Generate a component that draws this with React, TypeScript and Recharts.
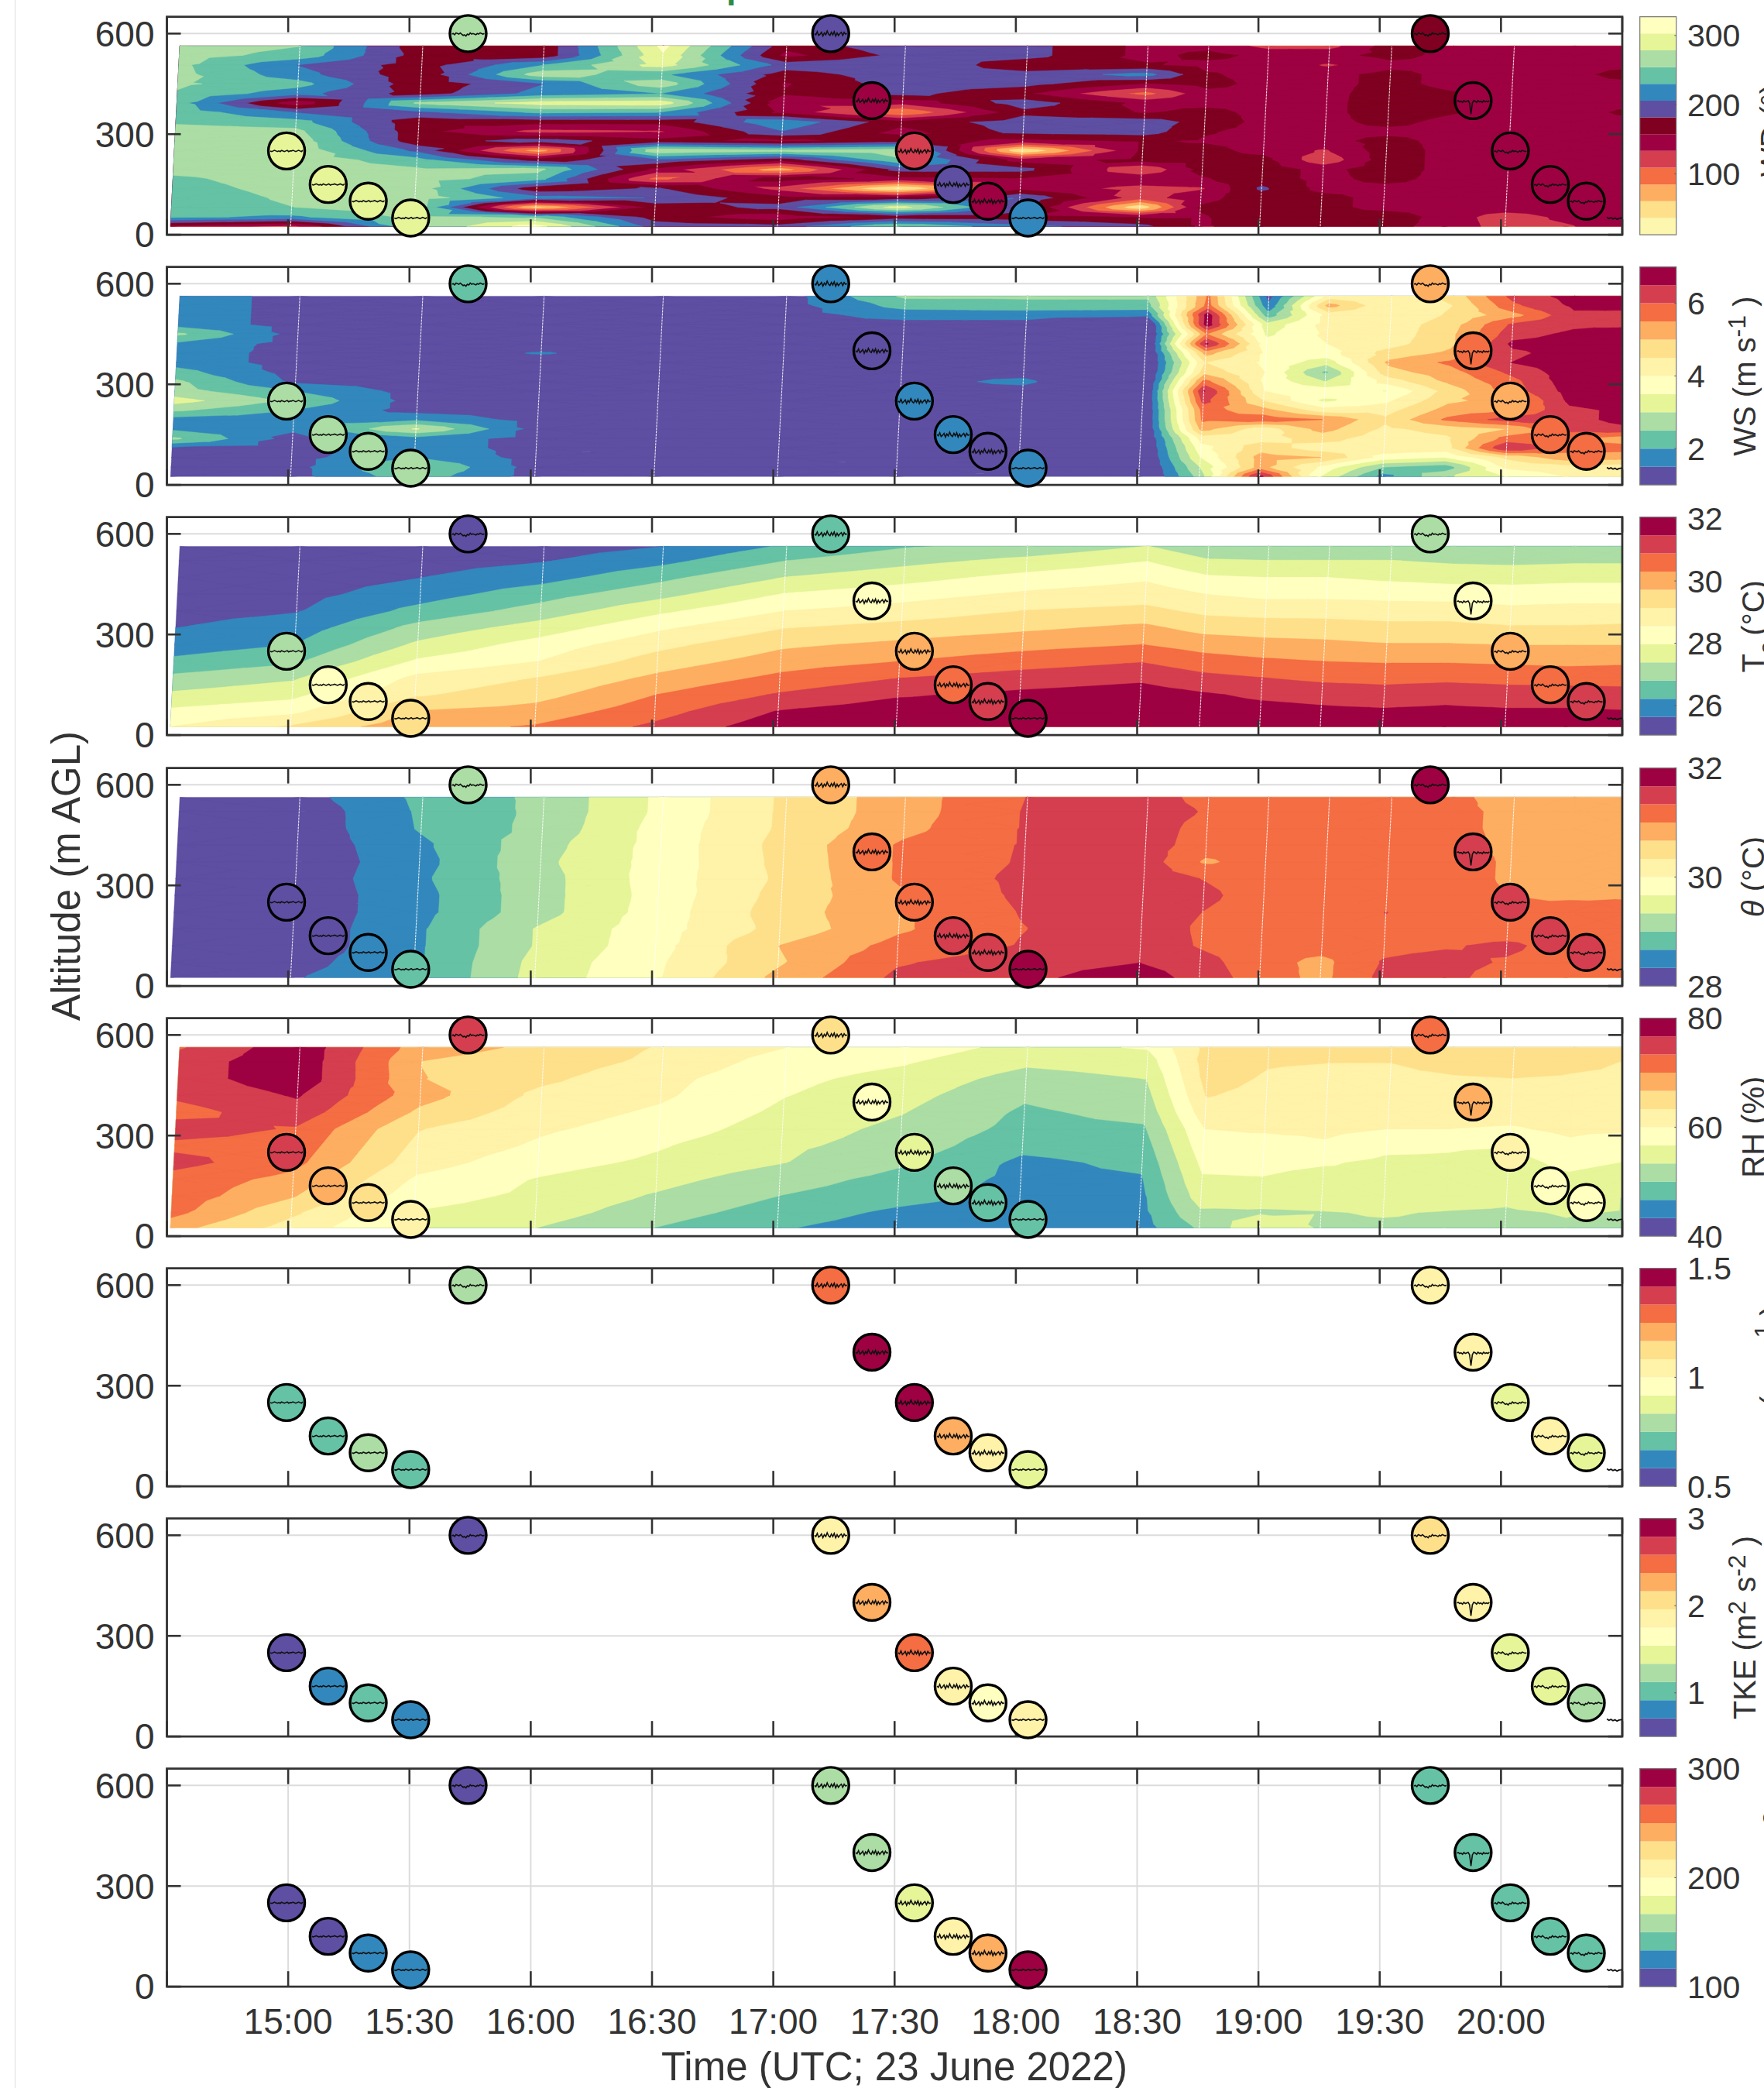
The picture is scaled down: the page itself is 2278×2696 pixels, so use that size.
import React from "react";
import {
  ComposedChart,
  CartesianGrid,
  Line,
  ReferenceArea,
  ReferenceLine,
  Scatter,
  XAxis,
  YAxis,
} from "recharts";

const FONT = '"Liberation Sans", Arial, sans-serif';
const INK = "#333333";

// minutes after 14:30
const timeTicks = [0, 30, 60, 90, 120, 150, 180, 210, 240, 270, 300, 330, 360];
const timeLabels = ["", "15:00", "15:30", "16:00", "16:30", "17:00", "17:30", "18:00", "18:30", "19:00", "19:30", "20:00", ""];
const altTicks = [0, 300, 600];

// uav legs
const markerMinutes = [29.6, 39.9, 49.8, 60.3, 74.5, 164.2, 174.4, 184.9, 194.5, 203.1, 213, 312.5, 323.1, 332.3, 342.2, 351.1];
const markerAlts = [250, 150, 100, 50, 600, 600, 400, 250, 150, 100, 50, 600, 400, 250, 150, 100];
const markerWiggle = [0, 0, 0, 0, 1, 2, 2, 2, 2, 2, 0, 1, 3, 1, 1, 1];

const wdMarkers = [290, 290, 290, 290, 266, 193, 145, 121, 193, 145, 217, 169, 145, 145, 145, 145];
const wsMarkers = [2.75, 2.75, 2.75, 2.75, 2.25, 1.75, 1.25, 1.75, 1.75, 1.25, 1.75, 5.25, 5.75, 5.25, 5.75, 5.75];
const taMarkers = [27.1, 28.25, 28.8, 29.4, 25.3, 26.5, 28.25, 30, 30.6, 31.2, 31.8, 27.1, 28.25, 30, 30.6, 31.2];
const thetaMarkers = [28.17, 28.17, 28.5, 28.83, 29.17, 30.83, 31.17, 31.17, 31.5, 31.5, 31.83, 31.83, 31.5, 31.5, 31.5, 31.5];
const rhMarkers = [75, 68.3, 65, 61.7, 75, 65, 58.3, 55, 51.7, 48.3, 48.3, 71.7, 68.3, 61.7, 58.3, 58.3];
const sigmaMarkers = [0.71, 0.71, 0.79, 0.71, 0.79, 1.29, 1.46, 1.46, 1.21, 1.04, 0.875, 1.06, 1.04, 0.875, 1.04, 0.875];
const tkeMarkers = [0.6, 0.8, 1.0, 0.8, 0.6, 1.85, 2.27, 2.48, 1.85, 1.65, 1.85, 2.05, 1.85, 1.43, 1.43, 1.23];
const bcMarkers = [108, 108, 125, 125, 108, 158, 158, 175, 208, 242, 292, 142, 142, 142, 142, 142];

// little time series printed inside each circle
const wiggles = [
  [0, 1, 0, -1, 0, 1, 0, 1, -1, 0, 1, 0, -1, 1, 0, 0, -1, 0, 1, 0, -1, 0, 1, -1],
  [1, 0, 2, -1, 0, 1, -1, 1, 3, 2, 4, 1, 2, -1, 1, 0, 1, 2, 0, 1, -1, 0, 1, 0],
  [0, 2, -3, 3, 1, -2, 4, -1, 2, -4, 1, 3, -2, 2, -3, 4, -1, 3, 0, -2, 3, -2, 1, 0],
  [1, 0, 2, 1, 3, 0, 2, 1, 0, 4, 22, 4, 0, 1, 3, 0, 2, 1, 3, 0, 2, 1, 2, 0],
];
const tailMinutes = [356.2, 356.7, 357.2, 357.7, 358.2, 358.7, 359.2, 360];
const tailAlts = [52, 48, 51, 47, 50, 46, 49, 50];

// contour grid: flight columns and altitude rows
const gridMinutes = [0.9, 30.6, 61, 91, 120.5, 151, 180.4, 210.6, 240.4, 255.4, 270.3, 285.3, 300.7, 316, 331, 346, 361];
const seamMinutes = [30.6, 61, 91, 120.5, 151, 180.4, 210.6, 240.4, 255.4, 270.3, 285.3, 300.7, 331];
const fineAlts = [25, 53, 82, 110, 138, 167, 195, 223, 251, 280, 308, 336, 365, 393, 421, 450, 478, 506, 535, 563];
const coarseAlts = [25, 70, 120, 170, 220, 270, 320, 370, 420, 470, 520, 563];

const wdGrid = [
  [150, 235, 240, 240, 245, 250, 262, 265, 268, 268, 268, 250, 245, 240, 252, 258, 262, 260, 265, 268],
  [125, 225, 254, 258, 262, 265, 268, 270, 272, 270, 262, 240, 205, 140, 215, 240, 215, 205, 245, 255],
  [250, 260, 268, 270, 268, 266, 258, 240, 200, 165, 165, 165, 200, 260, 170, 165, 165, 170, 170, 165],
  [315, 250, 50, 215, 165, 240, 262, 170, 70, 195, 125, 165, 235, 290, 215, 205, 270, 230, 165, 165],
  [195, 170, 165, 205, 185, 100, 150, 200, 275, 165, 130, 165, 230, 295, 230, 270, 235, 290, 300, 310],
  [190, 140, 190, 165, 125, 170, 70, 165, 262, 150, 205, 225, 150, 140, 160, 155, 170, 195, 150, 165],
  [255, 165, 290, 165, 30, 150, 190, 250, 270, 170, 150, 165, 85, 140, 190, 195, 195, 205, 190, 200],
  [215, 165, 195, 205, 150, 155, 190, 145, 35, 150, 190, 195, 175, 195, 160, 190, 190, 165, 190, 190],
  [190, 155, 40, 120, 125, 150, 110, 165, 160, 160, 195, 195, 155, 150, 100, 155, 215, 160, 150, 150],
  [155, 155, 160, 150, 130, 155, 165, 165, 165, 155, 160, 172, 165, 150, 150, 165, 160, 150, 165, 150],
  [165, 170, 170, 170, 186, 170, 170, 165, 150, 150, 150, 150, 150, 150, 150, 150, 150, 150, 150, 125],
  [165, 165, 165, 165, 150, 150, 150, 115, 130, 150, 150, 150, 150, 150, 150, 150, 150, 130, 150, 125],
  [165, 170, 150, 150, 150, 165, 170, 170, 170, 165, 150, 165, 172, 172, 170, 165, 165, 150, 165, 170],
  [150, 150, 150, 150, 150, 150, 150, 150, 150, 150, 150, 150, 160, 165, 160, 150, 150, 150, 150, 150],
  [122, 118, 150, 150, 150, 150, 150, 150, 150, 150, 150, 135, 150, 150, 150, 150, 150, 150, 150, 150],
  [130, 140, 150, 150, 150, 150, 150, 150, 150, 150, 150, 150, 150, 150, 150, 150, 150, 150, 150, 150],
  [150, 150, 150, 150, 150, 150, 150, 150, 150, 150, 150, 150, 162, 150, 150, 150, 170, 150, 150, 150],
];

const wsGrid = [
  [1.2, 1.2, 1.3, 1.4, 2.6, 1.9, 1.8, 2.6, 3.2, 2.7, 2.6, 2.2, 1.8, 1.8, 1.9, 2.6, 1.8, 1.8, 1.8, 1.8],
  [1.3, 1.3, 1.3, 1.3, 1.3, 1.6, 1.7, 2.0, 2.4, 2.0, 1.4, 1.3, 1.3, 1.3, 1.3, 1.3, 1.3, 1.3, 1.3, 1.3],
  [2.3, 2.6, 2.0, 1.8, 1.8, 3.05, 1.9, 1.3, 1.3, 1.3, 1.3, 1.3, 1.3, 1.3, 1.3, 1.3, 1.3, 1.3, 1.3, 1.3],
  [1.3, 1.3, 1.3, 1.3, 1.3, 1.3, 1.3, 1.3, 1.3, 1.3, 1.3, 1.3, 1.3, 1.53, 1.3, 1.3, 1.3, 1.3, 1.3, 1.3],
  [1.3, 1.3, 1.3, 1.3, 1.3, 1.3, 1.3, 1.3, 1.3, 1.3, 1.3, 1.3, 1.3, 1.3, 1.3, 1.3, 1.3, 1.3, 1.3, 1.3],
  [1.3, 1.3, 1.3, 1.3, 1.3, 1.3, 1.3, 1.3, 1.3, 1.3, 1.3, 1.3, 1.3, 1.3, 1.3, 1.3, 1.3, 1.3, 1.3, 1.3],
  [1.3, 1.3, 1.3, 1.3, 1.3, 1.3, 1.3, 1.3, 1.3, 1.3, 1.3, 1.3, 1.3, 1.3, 1.3, 1.3, 1.3, 1.7, 2.2, 2.6],
  [1.3, 1.3, 1.3, 1.3, 1.3, 1.3, 1.3, 1.3, 1.3, 1.3, 1.62, 1.3, 1.3, 1.3, 1.3, 1.3, 1.3, 1.7, 2.3, 2.6],
  [0.6, 0.6, 0.6, 0.6, 0.6, 0.6, 0.6, 0.6, 0.6, 0.6, 0.6, 0.6, 0.6, 0.6, 0.6, 0.6, 0.6, 1.6, 2.3, 2.6],
  [2.7, 3, 3.5, 3.8, 4.2, 5.2, 5.6, 5.7, 6.2, 6.55, 5.7, 4.8, 4.5, 5.2, 6.6, 5.5, 6.8, 6.8, 5.7, 5.6],
  [6.7, 5.2, 5.2, 4.8, 4.3, 4.2, 5.8, 5.2, 4.5, 4.0, 3.9, 4.0, 3.9, 3.9, 3.7, 3.4, 3.2, 2.2, 1.6, 1.3],
  [3.5, 3.9, 5, 4.2, 4.7, 5.2, 5.5, 4.2, 3.4, 3.8, 3.0, 2.4, 3.2, 3.8, 4, 4.1, 4.2, 4.2, 5.2, 4.2],
  [1.8, 2.5, 3.8, 4.3, 4.2, 4.4, 4.6, 4.3, 3.9, 3.48, 4.2, 4.8, 5.1, 4.7, 4.3, 4.2, 4.2, 4, 4, 4],
  [2.9, 2.2, 3.5, 4.3, 4.4, 4.7, 5.6, 5.2, 4.9, 4.7, 5.1, 5.3, 5.6, 5.1, 4.9, 4.9, 4.8, 4.6, 4.5, 4.7],
  [3.5, 4.1, 4.6, 6.5, 5.7, 5, 6.2, 5.4, 5.2, 5.7, 5.8, 6.1, 6.5, 6.4, 6.6, 6.3, 6.1, 5.3, 5.9, 6.2],
  [4, 4.3, 5.3, 5.7, 5.6, 6.2, 6.3, 6.4, 6.6, 6.7, 6.8, 6.8, 6.8, 6.7, 6.7, 6.6, 6.4, 6.4, 6.6, 6.7],
  [4.3, 4.2, 5.2, 5.7, 5.2, 6.4, 6.7, 6.6, 6.8, 6.8, 6.8, 6.8, 6.8, 6.8, 6.8, 6.8, 6.4, 6.3, 6.7, 6.8],
];

const taGrid = [
  [28.55, 28.1, 27.5, 26.95, 26.35, 25.9, 25.63, 25.45, 25.3, 25.3, 25.3, 25.3],
  [29.2, 28.4, 27.8, 27.3, 26.7, 26.22, 25.9, 25.6, 25.45, 25.35, 25.3, 25.3],
  [30.1, 29.75, 29.05, 28.7, 28.05, 27.5, 27.0, 26.4, 25.95, 25.63, 25.4, 25.3],
  [30.35, 29.95, 29.5, 29.15, 28.55, 28.2, 27.65, 27.05, 26.55, 26.0, 25.6, 25.35],
  [31.0, 30.65, 30.3, 29.85, 29.4, 28.95, 28.45, 27.85, 27.2, 26.65, 26.05, 25.63],
  [31.8, 31.5, 30.95, 30.45, 30.0, 29.6, 29.1, 28.55, 28.0, 27.4, 26.8, 26.3],
  [32.0, 31.8, 31.4, 30.88, 30.3, 29.85, 29.35, 28.8, 28.3, 27.75, 27.2, 26.75],
  [32.0, 31.85, 31.6, 31.15, 30.6, 30.1, 29.6, 29.15, 28.65, 28.15, 27.55, 26.95],
  [31.95, 31.9, 31.75, 31.35, 30.85, 30.3, 29.85, 29.3, 28.85, 28.45, 27.95, 27.4],
  [31.95, 31.8, 31.55, 31.05, 30.55, 30.05, 29.5, 29.0, 28.55, 28.05, 27.45, 26.9],
  [31.9, 31.7, 31.35, 30.9, 30.4, 29.9, 29.45, 28.9, 28.4, 27.97, 27.4, 26.95],
  [31.9, 31.6, 31.25, 30.75, 30.3, 29.85, 29.4, 28.9, 28.4, 27.97, 27.4, 27.0],
  [31.85, 31.55, 31.15, 30.7, 30.25, 29.75, 29.3, 28.85, 28.35, 27.85, 27.4, 27.05],
  [31.9, 31.6, 31.25, 30.75, 30.25, 29.75, 29.3, 28.85, 28.3, 27.75, 27.3, 26.95],
  [31.85, 31.55, 31.15, 30.7, 30.2, 29.7, 29.2, 28.7, 28.25, 27.75, 27.25, 26.85],
  [31.85, 31.55, 31.15, 30.65, 30.15, 29.7, 29.2, 28.75, 28.3, 27.8, 27.3, 26.85],
  [31.8, 31.5, 31.1, 30.65, 30.2, 29.7, 29.25, 28.75, 28.3, 27.8, 27.3, 26.85],
];

const thetaGrid = [
  [28.1, 28.1, 28.1, 28.1, 28.1, 28.1, 28.1, 28.1, 28.1, 28.1, 28.1, 28.1],
  [28.3, 28.2, 28.1, 28.1, 28.1, 28.1, 28.1, 28.1, 28.1, 28.1, 28.1, 28.2],
  [28.6, 28.6, 28.6, 28.6, 28.55, 28.55, 28.6, 28.55, 28.6, 28.7, 28.72, 28.75],
  [29.45, 29.43, 29.36, 29.36, 29.2, 29.2, 29.2, 29.25, 29.2, 29.1, 29.08, 29.08],
  [29.95, 29.93, 29.87, 29.85, 29.82, 29.8, 29.82, 29.8, 29.8, 29.8, 29.75, 29.75],
  [30.75, 30.62, 30.67, 30.45, 30.5, 30.45, 30.4, 30.43, 30.45, 30.4, 30.4, 30.4],
  [31.4, 31.3, 31.1, 30.95, 30.95, 30.95, 31.05, 31.05, 31.05, 30.9, 30.85, 30.85],
  [31.55, 31.5, 31.35, 31.32, 31.35, 31.4, 31.42, 31.37, 31.36, 31.36, 31.36, 31.34],
  [31.9, 31.66, 31.55, 31.55, 31.5, 31.5, 31.5, 31.5, 31.5, 31.5, 31.5, 31.5],
  [31.5, 31.45, 31.3, 31.28, 31.33, 31.42, 31.32, 30.95, 31.15, 31.2, 31.3, 31.2],
  [31.2, 31.15, 31.15, 31.15, 31.15, 31.15, 31.15, 31.15, 31.15, 31.15, 31.15, 31.15],
  [30.9, 30.9, 31.15, 31.1, 31.1, 31.1, 31.1, 31.1, 31.1, 31.1, 31.1, 31.1],
  [31.42, 31.36, 31.25, 31.3, 31.34, 31.15, 31.15, 31.15, 31.25, 31.15, 31.15, 31.15],
  [31.5, 31.45, 31.3, 31.15, 31.15, 31.15, 31.15, 31.15, 31.15, 31.1, 31.05, 31.05],
  [31.1, 31.3, 31.4, 31.15, 31.02, 31.0, 30.95, 30.95, 30.9, 30.9, 30.95, 30.9],
  [31.2, 31.2, 31.2, 31.15, 31.1, 30.96, 30.9, 30.9, 30.9, 30.9, 30.9, 30.9],
  [31.2, 31.2, 31.15, 31.1, 31.05, 30.98, 30.9, 30.9, 30.9, 30.9, 30.9, 30.9],
];

const rhGrid = [
  [68, 71, 72, 72, 74.5, 72.5, 75, 72, 74, 75, 75, 73],
  [62, 64, 67, 69, 71, 72, 73, 75.5, 77, 79, 79, 79],
  [56, 56.5, 58, 59.5, 61.5, 62.5, 63.5, 66, 68, 66.8, 66.6, 68],
  [53.4, 55, 56, 56.5, 58, 59.5, 60.5, 61.5, 62.5, 64, 65, 66],
  [50, 51.5, 53, 54.5, 56, 57, 58.5, 59.5, 60.5, 61, 62.5, 63],
  [47, 48.5, 50, 51.5, 53.5, 54, 55, 56, 56.8, 57.5, 58.5, 60],
  [45, 46, 48, 49, 50.5, 52, 52.5, 53.5, 54.5, 55.5, 57, 58.5],
  [43.2, 44.5, 45.5, 45.8, 46, 47.5, 49, 49.5, 50.5, 52, 54, 55.5],
  [45, 45.5, 45.8, 46.4, 47.3, 48.4, 49.6, 51, 52.2, 53.4, 55, 57],
  [50.5, 52.8, 55, 56.3, 57.5, 58.8, 60, 62, 63.5, 64.5, 65, 64.5],
  [56, 53, 54.5, 56.5, 57.5, 58.5, 60.5, 62, 62.5, 63, 63.6, 64.2],
  [53, 53.2, 54.5, 55.5, 57, 59.5, 60.8, 61.5, 62, 62.5, 63.4, 65],
  [53, 53.5, 55, 56, 56, 57.5, 60, 61, 62, 62.5, 63.4, 65.5],
  [53, 53.2, 54.5, 55.5, 56.2, 57, 60, 62, 62.7, 63, 64.5, 66],
  [52.5, 53, 54, 55, 55.5, 56.8, 59.5, 62, 62.5, 63.3, 65, 66],
  [53, 53.5, 55, 56, 57.5, 59, 61, 62, 62.5, 63, 64, 65.5],
  [52.5, 53.2, 53.2, 55, 56.5, 57, 60.5, 62, 62.6, 62.9, 63.1, 64.9],
];

const spectral12 = ["#5e4fa2", "#3288bd", "#66c2a5", "#abdda4", "#e6f598", "#ffffbf", "#fff2a9", "#fee08b", "#fdae61", "#f46d43", "#d53e4f", "#9e0142"];
const wdColors = ["#fdf6ae", "#fee08b", "#fdae61", "#f46d43", "#d53e4f", "#9e0142", "#7f0020", "#5e4fa2", "#3288bd", "#66c2a5", "#abdda4", "#e6f598", "#ffffbf"];

const panels = [
  { lo: 12.2, hi: 327, ticks: [100, 200, 300], labels: ["100", "200", "300"], colors: wdColors, markers: wdMarkers, grid: wdGrid, rows: fineAlts },
  { lo: 1, hi: 7, ticks: [2, 4, 6], labels: ["2", "4", "6"], colors: spectral12, markers: wsMarkers, grid: wsGrid, rows: fineAlts },
  { lo: 25.05, hi: 32.05, ticks: [26, 28, 30, 32], labels: ["26", "28", "30", "32"], colors: spectral12, markers: taMarkers, grid: taGrid, rows: coarseAlts },
  { lo: 28, hi: 32, ticks: [28, 30, 32], labels: ["28", "30", "32"], colors: spectral12, markers: thetaMarkers, grid: thetaGrid, rows: coarseAlts },
  { lo: 40, hi: 80, ticks: [40, 60, 80], labels: ["40", "60", "80"], colors: spectral12, markers: rhMarkers, grid: rhGrid, rows: coarseAlts },
  { lo: 0.5, hi: 1.5, ticks: [0.5, 1, 1.5], labels: ["0.5", "1", "1.5"], colors: spectral12, markers: sigmaMarkers },
  { lo: 0.5, hi: 3, ticks: [1, 2, 3], labels: ["1", "2", "3"], colors: spectral12, markers: tkeMarkers },
  { lo: 100, hi: 300, ticks: [100, 200, 300], labels: ["100", "200", "300"], colors: spectral12, markers: bcMarkers },
];

const ALT_MAX = 650;
const T_MAX = 360;
const SKEW = 2.3; // columns lean later with height, minutes over the full profile
const ROW = 323.2;
const PLOT_H = 281.4;
const TOP = 21.7;
const PAD = 30; // charts overlap a little so tick labels stay inside their svg
const X_TICK_LEN = 46; // altitude units, about 20px
const Y_TICK_LEN = 3.45; // minutes, about 18px

type V = { t: number; a: number; v: number };

function clipAbove(poly: V[], level: number): V[] {
  const out: V[] = [];
  for (let i = 0; i < poly.length; i++) {
    const p = poly[i];
    const q = poly[(i + 1) % poly.length];
    if (p.v >= level) out.push(p);
    if (p.v >= level !== q.v >= level) {
      const f = (level - p.v) / (q.v - p.v);
      out.push({ t: p.t + f * (q.t - p.t), a: p.a + f * (q.a - p.a), v: level });
    }
  }
  return out;
}

function buildContour(p: any, rect: any) {
  const { grid, rows, colors, lo, hi } = p;
  const step = (hi - lo) / colors.length;
  const px = (t: number) => rect.x + (t / T_MAX) * rect.width;
  const py = (a: number) => rect.y + rect.height - (a / ALT_MAX) * rect.height;
  const node = (c: number, r: number): V => ({
    t: gridMinutes[c] + (SKEW * (rows[r] - rows[0])) / (rows[rows.length - 1] - rows[0]),
    a: rows[r],
    v: grid[c][r],
  });
  const tris: V[][] = [];
  for (let c = 0; c < grid.length - 1; c++) {
    for (let r = 0; r < rows.length - 1; r++) {
      const a = node(c, r);
      const b = node(c + 1, r);
      const d = node(c + 1, r + 1);
      const e = node(c, r + 1);
      const m = {
        t: (a.t + b.t + d.t + e.t) / 4,
        a: (a.a + b.a + d.a + e.a) / 4,
        v: (a.v + b.v + d.v + e.v) / 4,
      };
      tris.push([a, b, m], [b, d, m], [d, e, m], [e, a, m]);
    }
  }
  return colors.map((fill: string, i: number) => {
    const level = i === 0 ? -Infinity : lo + i * step;
    let d = "";
    for (const tri of tris) {
      const poly = clipAbove(tri, level);
      if (poly.length < 3) continue;
      d += "M" + poly.map((q) => `${px(q.t).toFixed(1)} ${py(q.a).toFixed(1)}`).join("L") + "Z";
    }
    return <path key={fill + i} d={d} fill={fill} stroke={fill} strokeWidth={0.4} />;
  });
}

function Marker(props: any) {
  const { cx, cy, payload, colors, lo, hi } = props;
  const k = Math.min(colors.length - 1, Math.max(0, Math.floor(((payload.value - lo) / (hi - lo)) * colors.length)));
  const w = wiggles[payload.wiggle];
  const pts = w.map((v: number, i: number) => `${(cx - 21 + (i * 42) / (w.length - 1)).toFixed(1)},${(cy + v * 0.8).toFixed(1)}`).join(" ");
  return (
    <g>
      <circle cx={cx} cy={cy} r={23.5} fill={colors[k]} stroke="#000" strokeWidth={3.4} />
      <polyline points={pts} fill="none" stroke="#111" strokeWidth={1.6} />
    </g>
  );
}

function Panel({ p, index }: { p: any; index: number }) {
  const last = index === panels.length - 1;
  const top = ROW * index - PAD;
  const height = last ? 2696 - top : ROW + 2 * PAD;
  const points = markerMinutes.map((t, i) => ({ t, alt: markerAlts[i], value: p.markers[i], wiggle: markerWiggle[i] }));
  const tail = tailMinutes.map((t, i) => ({ t, alt: tailAlts[i] }));
  return (
    <div style={{ position: "absolute", left: 0, top }}>
      <ComposedChart width={2278} height={height} margin={{ top: TOP + PAD, right: 183, bottom: 0, left: 0 }}>
        <CartesianGrid stroke="#dcdcdc" strokeWidth={2} />
        <XAxis
          dataKey="t"
          type="number"
          domain={[0, T_MAX]}
          ticks={timeTicks}
          interval={0}
          height={height - TOP - PAD - PLOT_H}
          axisLine={false}
          tickLine={false}
          tickSize={0}
          tickMargin={28}
          tickFormatter={(v: number) => timeLabels[timeTicks.indexOf(v)]}
          tick={last ? { fill: INK, fontSize: 46, fontFamily: FONT } : false}
        />
        <YAxis
          dataKey="alt"
          type="number"
          domain={[0, ALT_MAX]}
          ticks={altTicks}
          interval={0}
          width={215.5}
          axisLine={false}
          tickLine={false}
          tickSize={0}
          tickMargin={16}
          tick={{ fill: INK, fontSize: 46, fontFamily: FONT }}
        />
        {timeTicks.map((t) => (
          <ReferenceLine key={`b${t}`} segment={[{ x: t, y: 0 }, { x: t, y: X_TICK_LEN }]} ifOverflow="visible" stroke={INK} strokeWidth={2.6} />
        ))}
        {timeTicks.map((t) => (
          <ReferenceLine key={`t${t}`} segment={[{ x: t, y: ALT_MAX }, { x: t, y: ALT_MAX - X_TICK_LEN }]} ifOverflow="visible" stroke={INK} strokeWidth={2.6} />
        ))}
        {altTicks.map((a) => (
          <ReferenceLine key={`l${a}`} segment={[{ x: 0, y: a }, { x: Y_TICK_LEN, y: a }]} ifOverflow="visible" stroke={INK} strokeWidth={2.6} />
        ))}
        {altTicks.map((a) => (
          <ReferenceLine key={`r${a}`} segment={[{ x: T_MAX, y: a }, { x: T_MAX - Y_TICK_LEN, y: a }]} ifOverflow="visible" stroke={INK} strokeWidth={2.6} />
        ))}
        {p.grid && (
          <ReferenceArea
            x1={0}
            x2={T_MAX}
            y1={0}
            y2={ALT_MAX}
            ifOverflow="visible"
            shape={(rect: any) => (
              <g>
                <clipPath id={`plot-${index}`}>
                  <rect x={rect.x} y={rect.y} width={rect.width} height={rect.height} />
                </clipPath>
                <g clipPath={`url(#plot-${index})`}>{buildContour(p, rect)}</g>
              </g>
            )}
          />
        )}
        {p.grid &&
          seamMinutes.map((t) => (
            <ReferenceLine
              key={t}
              segment={[
                { x: t, y: 25 },
                { x: t + SKEW, y: 563 },
              ]}
              ifOverflow="visible"
              stroke="#fff"
              strokeWidth={1.1}
              strokeDasharray="3 1"
              strokeOpacity={0.85}
            />
          ))}
        <ReferenceArea x1={0} x2={T_MAX} y1={0} y2={ALT_MAX} ifOverflow="visible" fill="none" stroke={INK} strokeWidth={2.8} />
        <Line data={tail} dataKey="alt" stroke="#111" strokeWidth={1.8} dot={false} isAnimationActive={false} />
        <Scatter
          data={points}
          isAnimationActive={false}
          shape={(s: any) => <Marker {...s} colors={p.colors} lo={p.lo} hi={p.hi} />}
        />
      </ComposedChart>
    </div>
  );
}

function ColorBar({ p, index }: { p: any; index: number }) {
  const step = (p.hi - p.lo) / p.colors.length;
  return (
    <div style={{ position: "absolute", left: 2100, top: ROW * index - PAD }}>
      <ComposedChart
        width={178}
        height={ROW + 2 * PAD}
        data={[{ x: 0 }, { x: 1 }]}
        margin={{ top: TOP + PAD, right: 0, bottom: ROW + PAD - TOP - PLOT_H, left: 17.7 }}
      >
        <XAxis dataKey="x" type="number" domain={[0, 1]} hide />
        <YAxis
          orientation="right"
          type="number"
          domain={[p.lo, p.hi]}
          ticks={p.ticks}
          interval={0}
          width={113.3}
          axisLine={false}
          tickLine={false}
          tickSize={0}
          tickMargin={14.3}
          tickFormatter={(v: number) => p.labels[p.ticks.indexOf(v)]}
          tick={{ fill: INK, fontSize: 41, fontFamily: FONT }}
          allowDataOverflow
        />
        {p.colors.map((c: string, i: number) => (
          <ReferenceArea
            key={c + i}
            y1={p.lo + i * step}
            y2={p.lo + (i + 1) * step}
            ifOverflow="visible"
            fill={c}
            fillOpacity={1}
            stroke="none"
          />
        ))}
        <ReferenceArea y1={p.lo} y2={p.hi} ifOverflow="visible" fill="none" stroke="#777" strokeWidth={1.2} />
        {p.ticks.map((v: number) => (
          <ReferenceLine key={v} segment={[{ x: 0.95, y: v }, { x: 1, y: v }]} ifOverflow="visible" stroke="#555" strokeWidth={1} />
        ))}
      </ComposedChart>
    </div>
  );
}

function SideLabel({ x, y, children }: { x: number; y: number; children: React.ReactNode }) {
  return (
    <text x={x} y={y} transform={`rotate(-90 ${x} ${y})`} textAnchor="middle" fontSize={40} fill={INK} fontFamily={FONT}>
      {children}
    </text>
  );
}

const sup = (s: string) => (
  <>
    <tspan dy="-0.42em" fontSize="0.8em">
      {s}
    </tspan>
    <tspan dy="0.34em"> </tspan>
  </>
);

export default function App() {
  const mid = (i: number) => TOP + ROW * i + PLOT_H / 2;
  return (
    <div style={{ position: "absolute", left: 0, top: 0, width: 2278, height: 2696, background: "#fff", overflow: "hidden" }}>
      {panels.map((p, i) => (
        <Panel key={i} p={p} index={i} />
      ))}
      {panels.map((p, i) => (
        <ColorBar key={i} p={p} index={i} />
      ))}
      <svg width={2278} height={2696} style={{ position: "absolute", left: 0, top: 0, pointerEvents: "none" }}>
        <line x1={19.5} y1={0} x2={19.5} y2={2696} stroke="#dddddd" strokeWidth={1} />
        <text x={938} y={-2} fontSize={45} fontWeight="bold" fill="#2e8b47" fontFamily={FONT}>
          p
        </text>
        <text x={1155} y={2686} textAnchor="middle" fontSize={51} fill={INK} fontFamily={FONT}>
          Time (UTC; 23 June 2022)
        </text>
        <text x={103} y={1131} transform="rotate(-90 103 1131)" textAnchor="middle" fontSize={51} fill={INK} fontFamily={FONT}>
          Altitude (m AGL)
        </text>
        <SideLabel x={2302} y={168}>WD (°)</SideLabel>
        <SideLabel x={2267} y={mid(1)}>
          WS (m s{sup("-1")})
        </SideLabel>
        <SideLabel x={2278} y={mid(2)}>
          T
          <tspan dy="0.45em" fontSize="0.7em">a </tspan>
          <tspan dy="-0.32em"> (°C)</tspan>
        </SideLabel>
        <SideLabel x={2278} y={mid(3)}>
          <tspan fontStyle="italic">θ</tspan> (°C)
        </SideLabel>
        <SideLabel x={2278} y={mid(4)}>RH (%)</SideLabel>
        <SideLabel x={2302} y={mid(5)}>
          <tspan fontStyle="italic">σ</tspan>
          <tspan dy="0.25em" fontSize="0.7em">w</tspan>
          <tspan dy="-0.18em"> (m s</tspan>
          {sup("-1")})
        </SideLabel>
        <SideLabel x={2267} y={mid(6)}>
          TKE (m{sup("2")}s{sup("-2")})
        </SideLabel>
        <SideLabel x={2312} y={mid(7)}>
          BC (ng m{sup("-3")})
        </SideLabel>
      </svg>
    </div>
  );
}
